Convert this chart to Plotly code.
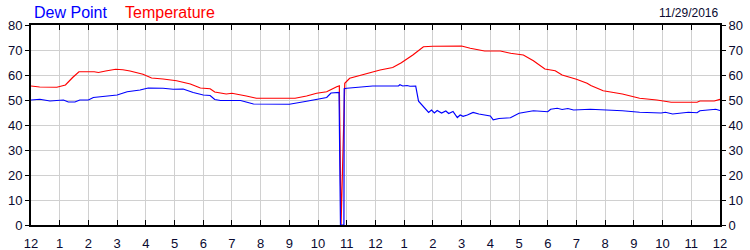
import plotly.graph_objects as go

temp_hours = [0, 0.3, 0.9, 1.2, 1.45, 1.67, 2.2, 2.35, 2.6, 2.95, 3.2, 3.45, 3.9, 4.2, 4.6, 5.07,
              5.55, 5.9, 6.24, 6.4, 6.8, 7.0, 7.5, 7.85, 9.2, 9.6, 9.95, 10.3, 10.65, 10.74, 10.80,
              10.93, 11.1, 11.7, 12.16, 12.6, 12.9, 13.3, 13.67, 14.0, 14.6, 15.0, 15.3, 15.8, 16.35,
              16.7, 17.15, 17.5, 17.9, 18.26, 18.5, 19.0, 19.37, 19.5, 19.93, 20.6, 21.2, 21.8, 22.3,
              23.2, 23.3, 23.8, 24.0]
temperature = [55.6, 55.2, 55.1, 56.0, 59.0, 61.3, 61.3, 61.0, 61.6, 62.3, 62.1, 61.6, 60.3, 58.8, 58.4, 57.7,
               56.4, 54.8, 54.5, 53.2, 52.4, 52.7, 51.6, 50.7, 50.7, 51.6, 52.7, 53.3, 55.3, 55.7, 0,
               56.7, 58.7, 60.7, 62.0, 63.0, 64.9, 68.0, 71.3, 71.5, 71.6, 71.6, 70.7, 69.6, 69.6,
               68.7, 68.0, 65.7, 62.4, 61.7, 60.0, 58.3, 56.7, 55.8, 53.7, 52.4, 50.7, 50.0, 49.1,
               49.1, 49.6, 49.6, 50.3]

dew_hours = [0, 0.31, 0.66, 0.9, 1.13, 1.3, 1.53, 1.7, 2.0, 2.17, 2.65, 3.0, 3.35, 3.8, 4.08, 4.6,
             4.95, 5.3, 5.65, 6.0, 6.24, 6.4, 6.6, 7.3, 7.75, 9.0, 9.6, 10.3, 10.45, 10.73, 10.78,
             10.9, 10.91, 11.0, 11.5, 11.9, 12.8, 12.85, 12.95, 13.1, 13.2, 13.4, 13.5, 13.67, 13.85,
             13.95, 14.05, 14.15, 14.3, 14.45, 14.55, 14.7, 14.85, 14.95, 15.05, 15.2, 15.4, 15.6,
             16.0, 16.1, 16.3, 16.7, 17.0, 17.5, 18.0, 18.1, 18.33, 18.5, 18.7, 18.9, 19.37, 19.48,
             20.6, 21.2, 21.95, 22.1, 22.35, 22.9, 23.2, 23.3, 23.85, 24.0]
dew_point = [50.0, 50.3, 49.6, 49.9, 50.0, 49.2, 49.2, 50.0, 50.0, 51.0, 51.6, 52.0, 53.3, 54.0, 54.8, 54.7,
             54.3, 54.4, 53.0, 52.0, 51.8, 50.2, 49.8, 49.8, 48.4, 48.3, 49.5, 51.0, 52.8, 53.0, 0,
             0, 54.5, 54.7, 55.2, 55.6, 55.6, 56.1, 55.6, 55.8, 55.5, 55.6, 49.5, 47.4, 45.0,
             46.0, 44.8, 45.8, 44.8, 45.6, 44.6, 45.4, 43.0, 44.0, 43.5, 44.0, 45.0, 44.4,
             43.6, 42.1, 42.6, 42.9, 44.7, 45.7, 45.3, 46.3, 46.7, 46.2, 46.6, 46.0, 46.1, 46.3,
             45.7, 45.1, 44.8, 45.1, 44.4, 45.1, 44.9, 45.7, 46.3, 45.8]

tick_hours = list(range(25))
tick_labels = ["12", "1", "2", "3", "4", "5", "6", "7", "8", "9", "10", "11",
               "12", "1", "2", "3", "4", "5", "6", "7", "8", "9", "10", "11", "12"]
y_ticks = [0, 10, 20, 30, 40, 50, 60, 70, 80]
date_label = "11/29/2016"

FONT = "Liberation Sans, Arial, sans-serif"
LABEL_COLOR = "#0a0a30"

fig = go.Figure()
fig.add_trace(go.Scatter(x=temp_hours, y=temperature, mode="lines", name="Temperature",
                         line=dict(color="#ff0000", width=1.2), yaxis="y"))
fig.add_trace(go.Scatter(x=dew_hours, y=dew_point, mode="lines", name="Dew Point",
                         line=dict(color="#0000ff", width=1.2), yaxis="y2"))

fig.update_layout(
    width=750, height=250,
    margin=dict(l=31, r=30, t=25, b=25),
    paper_bgcolor="white", plot_bgcolor="white",
    showlegend=False,
    font=dict(family=FONT, size=12, color=LABEL_COLOR),
    xaxis=dict(range=[0, 24], tickvals=tick_hours, ticktext=tick_labels,
               showgrid=True, gridcolor="#d0d0d0", gridwidth=1,
               showline=True, linecolor="black", linewidth=2, mirror="ticks",
               ticks="inside", ticklen=5, tickcolor="black", tickwidth=1,
               ticklabelstandoff=5, automargin=False,
               zeroline=False, tickfont=dict(size=13, color=LABEL_COLOR, family=FONT)),
    yaxis=dict(range=[0, 80], tickvals=y_ticks, showgrid=True, gridcolor="#d0d0d0", gridwidth=1,
               showline=True, linecolor="black", linewidth=2, automargin=False,
               ticks="outside", ticklen=4, tickcolor="black", tickwidth=1,
               zeroline=False, tickfont=dict(size=13, color=LABEL_COLOR, family=FONT)),
    yaxis2=dict(range=[0, 80], tickvals=y_ticks, overlaying="y", side="right", showgrid=False,
                showline=True, linecolor="black", linewidth=2, automargin=False,
                ticks="outside", ticklen=4, tickcolor="black", tickwidth=1,
                zeroline=False, tickfont=dict(size=13, color=LABEL_COLOR, family=FONT)),
)

pw, ph = 750 - 31 - 30, 250 - 25 - 25
def px_x(px):
    return (px - 31) / pw
def px_y(py):
    return (225 - py) / ph

fig.update_layout(annotations=[
    dict(text="Dew Point", x=px_x(32), y=px_y(12), xref="paper", yref="paper", showarrow=False,
         xanchor="left", yanchor="middle", font=dict(size=16, color="#0000ff", family=FONT)),
    dict(text="Temperature", x=px_x(123), y=px_y(12), xref="paper", yref="paper", showarrow=False,
         xanchor="left", yanchor="middle", font=dict(size=16, color="#ff0000", family=FONT)),
    dict(text=date_label, x=px_x(720), y=px_y(13), xref="paper", yref="paper", showarrow=False,
         xanchor="right", yanchor="middle", font=dict(size=12, color=LABEL_COLOR, family=FONT)),
])

fig.write_html("out.html")
